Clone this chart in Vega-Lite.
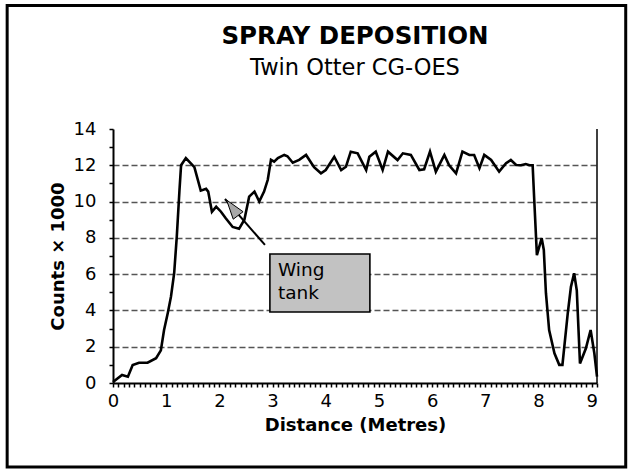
{
  "$schema": "https://vega.github.io/schema/vega-lite/v6.json",
  "width": 484,
  "height": 254,
  "autosize": {"type": "none"},
  "padding": {"left": 113, "top": 129, "right": 34, "bottom": 87},
  "background": "white",
  "title": {
    "text": "SPRAY DEPOSITION",
    "subtitle": "Twin Otter CG-OES",
    "font": "DejaVu Sans",
    "fontSize": 24.5,
    "fontWeight": "bold",
    "color": "black",
    "subtitleFont": "DejaVu Sans",
    "subtitleFontSize": 22.5,
    "subtitleColor": "black",
    "subtitlePadding": 8,
    "offset": -77,
    "anchor": "middle",
    "frame": "group"
  },
  "resolve": {"axis": {"x": "independent", "y": "independent"}},
  "config": {
    "view": {"stroke": null},
    "font": "DejaVu Sans",
    "axis": {
      "domainColor": "black",
      "domainWidth": 2,
      "tickColor": "black",
      "tickWidth": 1.5,
      "labelColor": "black",
      "titleColor": "black",
      "labelFont": "DejaVu Sans",
      "titleFont": "DejaVu Sans",
      "labelFontSize": 18,
      "titleFontSize": 18,
      "titleFontWeight": "bold"
    }
  },
  "layer": [
    {
      "data": {
        "values": [
          {"distance": 0.0, "counts": 0.05},
          {"distance": 0.17, "counts": 0.44},
          {"distance": 0.28, "counts": 0.35},
          {"distance": 0.37, "counts": 0.99},
          {"distance": 0.49, "counts": 1.12},
          {"distance": 0.65, "counts": 1.12},
          {"distance": 0.81, "counts": 1.37},
          {"distance": 0.9, "counts": 1.8},
          {"distance": 0.96, "counts": 2.92},
          {"distance": 1.03, "counts": 3.86},
          {"distance": 1.09, "counts": 4.76},
          {"distance": 1.15, "counts": 6.05},
          {"distance": 1.2, "counts": 8.1},
          {"distance": 1.25, "counts": 10.64},
          {"distance": 1.28, "counts": 12.0},
          {"distance": 1.37, "counts": 12.4},
          {"distance": 1.53, "counts": 11.9},
          {"distance": 1.65, "counts": 10.6},
          {"distance": 1.75, "counts": 10.7},
          {"distance": 1.79, "counts": 10.55},
          {"distance": 1.86, "counts": 9.44},
          {"distance": 1.94, "counts": 9.72},
          {"distance": 2.03, "counts": 9.44},
          {"distance": 2.12, "counts": 9.08},
          {"distance": 2.25, "counts": 8.6},
          {"distance": 2.37, "counts": 8.5},
          {"distance": 2.47, "counts": 9.0},
          {"distance": 2.56, "counts": 10.27},
          {"distance": 2.66, "counts": 10.55},
          {"distance": 2.75, "counts": 10.0},
          {"distance": 2.84, "counts": 10.55},
          {"distance": 2.91, "counts": 11.2},
          {"distance": 2.97, "counts": 12.3},
          {"distance": 3.03, "counts": 12.2},
          {"distance": 3.1, "counts": 12.4},
          {"distance": 3.22, "counts": 12.57},
          {"distance": 3.28, "counts": 12.5},
          {"distance": 3.38, "counts": 12.14},
          {"distance": 3.5, "counts": 12.3},
          {"distance": 3.63, "counts": 12.57},
          {"distance": 3.78, "counts": 11.9},
          {"distance": 3.91, "counts": 11.56},
          {"distance": 4.0, "counts": 11.74},
          {"distance": 4.16, "counts": 12.47},
          {"distance": 4.29, "counts": 11.74},
          {"distance": 4.38, "counts": 11.92},
          {"distance": 4.47, "counts": 12.75},
          {"distance": 4.6, "counts": 12.66},
          {"distance": 4.76, "counts": 11.74},
          {"distance": 4.82, "counts": 12.47},
          {"distance": 4.94, "counts": 12.75},
          {"distance": 5.07, "counts": 11.74},
          {"distance": 5.17, "counts": 12.75},
          {"distance": 5.35, "counts": 12.29},
          {"distance": 5.45, "counts": 12.66},
          {"distance": 5.6, "counts": 12.57},
          {"distance": 5.76, "counts": 11.74},
          {"distance": 5.85, "counts": 11.78},
          {"distance": 5.96, "counts": 12.75},
          {"distance": 6.07, "counts": 11.65},
          {"distance": 6.23, "counts": 12.57},
          {"distance": 6.32, "counts": 12.0},
          {"distance": 6.45, "counts": 11.56},
          {"distance": 6.57, "counts": 12.75},
          {"distance": 6.7, "counts": 12.57},
          {"distance": 6.79, "counts": 12.57},
          {"distance": 6.89, "counts": 11.84},
          {"distance": 6.98, "counts": 12.57},
          {"distance": 7.11, "counts": 12.29},
          {"distance": 7.26, "counts": 11.65},
          {"distance": 7.39, "counts": 12.11},
          {"distance": 7.48, "counts": 12.29},
          {"distance": 7.58, "counts": 12.02},
          {"distance": 7.67, "counts": 12.0},
          {"distance": 7.76, "counts": 12.07},
          {"distance": 7.83, "counts": 12.0},
          {"distance": 7.89, "counts": 12.0},
          {"distance": 7.92, "counts": 10.1},
          {"distance": 7.97, "counts": 7.05},
          {"distance": 8.06, "counts": 7.98},
          {"distance": 8.1, "counts": 7.33},
          {"distance": 8.14, "counts": 4.95},
          {"distance": 8.2, "counts": 2.92},
          {"distance": 8.3, "counts": 1.64},
          {"distance": 8.39, "counts": 1.0},
          {"distance": 8.45, "counts": 1.0},
          {"distance": 8.55, "counts": 3.84},
          {"distance": 8.61, "counts": 5.3},
          {"distance": 8.67, "counts": 6.05},
          {"distance": 8.72, "counts": 5.1},
          {"distance": 8.78, "counts": 1.08},
          {"distance": 8.89, "counts": 1.9},
          {"distance": 8.98, "counts": 2.92},
          {"distance": 9.05, "counts": 1.64},
          {"distance": 9.1, "counts": 0.35}
        ]
      },
      "mark": {"type": "line", "color": "black", "strokeWidth": 2.6, "strokeJoin": "miter"},
      "encoding": {
        "x": {
          "field": "distance",
          "type": "quantitative",
          "title": "Distance (Metres)",
          "scale": {"domain": [0, 9.1], "nice": false, "zero": true},
          "axis": {
            "orient": "bottom",
            "values": [0,0.1,0.2,0.3,0.4,0.5,0.6,0.7,0.8,0.9,1,1.1,1.2,1.3,1.4,1.5,1.6,1.7,1.8,1.9,2,2.1,2.2,2.3,2.4,2.5,2.6,2.7,2.8,2.9,3,3.1,3.2,3.3,3.4,3.5,3.6,3.7,3.8,3.9,4,4.1,4.2,4.3,4.4,4.5,4.6,4.7,4.8,4.9,5,5.1,5.2,5.3,5.4,5.5,5.6,5.7,5.8,5.9,6,6.1,6.2,6.3,6.4,6.5,6.6,6.7,6.8,6.9,7,7.1,7.2,7.3,7.4,7.5,7.6,7.7,7.8,7.9,8,8.1,8.2,8.3,8.4,8.5,8.6,8.7,8.8,8.9,9,9.1],
            "labelExpr": "abs(datum.value - round(datum.value)) < 0.01 ? format(datum.value, 'd') : ''",
            "labelOverlap": false,
            "labelFlush": false,
            "labelBound": false,
            "tickSize": 4,
            "labelPadding": 5,
            "titlePadding": 6,
            "grid": false
          }
        },
        "y": {
          "field": "counts",
          "type": "quantitative",
          "title": "Counts × 1000",
          "scale": {"domain": [0, 14], "nice": false},
          "axis": {
            "orient": "left",
            "values": [0,1,2,3,4,5,6,7,8,9,10,11,12,13,14],
            "labelExpr": "datum.value % 2 === 0 ? datum.label : ''",
            "labelOverlap": false,
            "labelFlush": false,
            "labelBound": false,
            "tickSize": 4,
            "labelPadding": 13,
            "titlePadding": 6,
            "grid": true,
            "gridColor": "#555555",
            "gridDash": [6, 3],
            "gridWidth": 1.4,
            "gridOpacity": {"condition": {"test": "datum.value % 2 === 0 && datum.value > 0 && datum.value < 14", "value": 1}, "value": 0}
          }
        }
      }
    },
    {
      "data": {"values": [{"label": "Wing\ntank"}]},
      "mark": {"type": "rect", "fill": "#c2c2c2", "stroke": "black", "strokeWidth": 1.6},
      "encoding": {
        "x": {"datum": 2.95, "type": "quantitative", "axis": null},
        "x2": {"datum": 4.83},
        "y": {"datum": 7.11, "type": "quantitative", "axis": null},
        "y2": {"datum": 3.91}
      }
    },
    {
      "data": {"values": [{"label": "Wing\ntank"}]},
      "mark": {"type": "text", "align": "left", "baseline": "alphabetic", "lineBreak": "\n", "lineHeight": 23, "fontSize": 18.5, "font": "DejaVu Sans", "color": "black"},
      "encoding": {
        "x": {"datum": 3.1, "type": "quantitative", "axis": null},
        "y": {"datum": 5.9, "type": "quantitative", "axis": null},
        "text": {"field": "label"}
      }
    },
    {
      "data": {"values": [{"label": "pointer"}]},
      "mark": {"type": "rule", "color": "black", "strokeWidth": 2},
      "encoding": {
        "x": {"datum": 2.105, "type": "quantitative", "axis": null},
        "y": {"datum": 10.14, "type": "quantitative", "axis": null},
        "x2": {"datum": 2.857},
        "y2": {"datum": 7.61}
      }
    },
    {
      "data": {"values": [{"label": "arrowhead"}]},
      "mark": {"type": "point", "shape": "M-0.75,-1L0.86,0.14L-0.1,0.87Z", "size": 420, "filled": true, "fill": "#a8a8a8", "stroke": "black", "strokeWidth": 1, "opacity": 1},
      "encoding": {
        "x": {"datum": 2.28, "type": "quantitative", "axis": null},
        "y": {"datum": 9.52, "type": "quantitative", "axis": null}
      }
    },
    {
      "data": {"values": [{"label": "right edge"}]},
      "mark": {"type": "rule", "color": "black", "strokeWidth": 1.5},
      "encoding": {
        "x": {"datum": 9.1, "type": "quantitative", "axis": null}
      }
    },
    {
      "data": {"values": [{"label": "frame"}]},
      "mark": {"type": "rect", "fill": "transparent", "stroke": "black", "strokeWidth": 3},
      "encoding": {
        "x": {"datum": -1.99, "type": "quantitative", "axis": null},
        "x2": {"datum": 9.64},
        "y": {"datum": 20.81, "type": "quantitative", "axis": null},
        "y2": {"datum": -4.63}
      }
    }
  ]
}
